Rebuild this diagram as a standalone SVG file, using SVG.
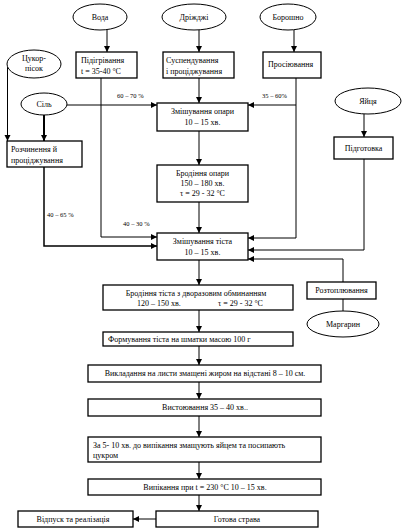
<svg xmlns="http://www.w3.org/2000/svg" width="405" height="531" viewBox="0 0 405 531">
<style>
  .b{fill:#fff;stroke:#000;stroke-width:1.3}
  .e{fill:#fff;stroke:#000;stroke-width:1}
  .t{font-family:"Liberation Serif","Times New Roman",serif;font-size:8px;fill:#000}
  .c{text-anchor:middle}
  .s{font-size:6.5px}
  .l{fill:none;stroke:#000;stroke-width:1}
  .a{marker-end:url(#ar)}
</style>
<defs>
  <marker id="ar" markerUnits="userSpaceOnUse" markerWidth="7" markerHeight="7" refX="6" refY="3" orient="auto">
    <path d="M0,0 L6,3 L0,6 z" fill="#000"/>
  </marker>
</defs>
<rect width="405" height="531" fill="#fff"/>

<g id="connectors">
  <line class="l a" x1="107" y1="30" x2="107" y2="52"/>
  <line class="l a" x1="199" y1="30" x2="199" y2="52"/>
  <line class="l a" x1="294" y1="30" x2="294" y2="52"/>
  <polyline class="l a" points="101,78 101,237 157,237"/>
  <line class="l a" x1="67" y1="105" x2="157" y2="105"/>
  <line class="l a" x1="199" y1="78" x2="199" y2="103"/>
  <polyline class="l a" points="296,78 296,238 248,238"/>
  <line class="l a" x1="296" y1="105" x2="248" y2="105"/>
  <line class="l a" x1="7.5" y1="67" x2="7.5" y2="141"/>
  <line class="l a" x1="44" y1="115" x2="44" y2="141" style="stroke-width:2"/>
  <polyline class="l a" points="44,167 44,246 157,246" style="stroke-width:1.5"/>
  <line class="l a" x1="199" y1="131" x2="199" y2="165"/>
  <line class="l a" x1="199" y1="202" x2="199" y2="233"/>
  <line class="l a" x1="364" y1="114" x2="364" y2="137"/>
  <polyline class="l a" points="364,159 364,250 248,250"/>
  <polyline class="l a" points="343,282 343,259 248,259"/>
  <line class="l" x1="343" y1="299" x2="343" y2="311"/>
  <line class="l a" x1="199" y1="260" x2="199" y2="285"/>
  <line class="l a" x1="199" y1="310" x2="199" y2="332"/>
  <line class="l a" x1="199" y1="346" x2="199" y2="365"/>
  <line class="l a" x1="199" y1="382" x2="199" y2="399"/>
  <line class="l a" x1="199" y1="416" x2="199" y2="437"/>
  <line class="l a" x1="199" y1="462" x2="199" y2="479"/>
  <line class="l a" x1="199" y1="495" x2="199" y2="511"/>
  <line class="l a" x1="156" y1="519" x2="133" y2="519"/>
  <text class="t s" x="117" y="98">60 – 70 %</text>
  <text class="t s" x="262" y="98">35 – 60%</text>
  <text class="t s" x="47" y="217">40 – 65 %</text>
  <text class="t s" x="123" y="226">40 – 30 %</text>
</g>

<g id="voda"><ellipse class="e" cx="100" cy="17" rx="27" ry="13"/><text class="t c" x="100" y="20">Вода</text></g>
<g id="drizhdzhi"><ellipse class="e" cx="194" cy="17" rx="32" ry="13"/><text class="t c" x="194" y="20">Дріжджі</text></g>
<g id="boroshno"><ellipse class="e" cx="288" cy="17" rx="28" ry="13"/><text class="t c" x="288" y="20">Борошно</text></g>
<g id="tsukor"><ellipse class="e" cx="34" cy="64" rx="27" ry="14"/><text class="t c" x="34" y="61">Цукор-</text><text class="t c" x="34" y="71">пісок</text></g>
<g id="sil"><ellipse class="e" cx="44" cy="104" rx="23" ry="11"/><text class="t c" x="44" y="107">Сіль</text></g>
<g id="yaytsya"><ellipse class="e" cx="368" cy="101" rx="33" ry="13"/><text class="t c" x="368" y="104">Яйця</text></g>
<g id="marharyn"><ellipse class="e" cx="343" cy="324" rx="36" ry="13"/><text class="t c" x="343" y="327">Маргарин</text></g>

<g id="pidihrivannya"><rect class="b" x="76" y="52" width="61" height="26"/><text class="t" x="81" y="63">Підігрівання</text><text class="t" x="81" y="74">t = 35-40 °C</text></g>
<g id="suspenduvannya"><rect class="b" x="163" y="52" width="71" height="26"/><text class="t" x="166" y="63">Суспендування</text><text class="t" x="166" y="74">і проціджування</text></g>
<g id="prosiyuvannya"><rect class="b" x="263" y="52" width="58" height="26"/><text class="t" x="268" y="67">Просіювання</text></g>
<g id="zmishuvannya-opary"><rect class="b" x="157" y="103" width="91" height="28"/><text class="t c" x="202.5" y="114">Змішування опари</text><text class="t c" x="202.5" y="125">10 – 15 хв.</text></g>
<g id="brodinnya-opary"><rect class="b" x="157" y="165" width="91" height="37"/><text class="t c" x="202.5" y="176">Бродіння опари</text><text class="t c" x="202.5" y="186">150 – 180 хв.</text><text class="t c" x="202.5" y="196">τ = 29 - 32 °C</text></g>
<g id="rozchynennya"><rect class="b" x="7" y="141" width="75" height="26"/><text class="t" x="11" y="152">Розчинення  й</text><text class="t" x="11" y="163">проціджування</text></g>
<g id="pidhotovka"><rect class="b" x="334" y="137" width="59" height="22"/><text class="t c" x="363.5" y="151">Підготовка</text></g>
<g id="zmishuvannya-tista"><rect class="b" x="157" y="233" width="91" height="27"/><text class="t c" x="202.5" y="244">Змішування тіста</text><text class="t c" x="202.5" y="255">10 – 15 хв.</text></g>
<g id="roztoplyuvannya"><rect class="b" x="307" y="282" width="69" height="17"/><text class="t c" x="341.5" y="293">Розтоплювання</text></g>
<g id="brodinnya-tista"><rect class="b" x="103" y="285" width="190" height="25"/><text class="t c" x="196" y="296">Бродіння тіста з дворазовим обминанням</text><text class="t" x="137" y="306">120 – 150 хв.</text><text class="t" x="218" y="306">τ = 29 - 32 °C</text></g>
<g id="formuvannya"><rect class="b" x="103" y="332" width="190" height="14"/><text class="t" x="108" y="342">Формування тіста  на шматки масою 100 г</text></g>
<g id="vykladannya"><rect class="b" x="88" y="365" width="233" height="17"/><text class="t c" x="205" y="376">Викладання  на листи змащені жиром на відстані 8 – 10 см.</text></g>
<g id="vystoyuvannya"><rect class="b" x="88" y="399" width="233" height="17"/><text class="t c" x="205" y="410">Вистоювання 35 – 40  хв..</text></g>
<g id="za-5-10"><rect class="b" x="88" y="437" width="233" height="25"/><text class="t" x="93" y="448">За 5- 10 хв. до випікання змащують яйцем та посипають</text><text class="t" x="93" y="458">цукром</text></g>
<g id="vypikannya"><rect class="b" x="88" y="479" width="233" height="16"/><text class="t c" x="205" y="490">Випікання  при t = 230 °C 10 – 15 хв.</text></g>
<g id="hotova-strava"><rect class="b" x="156" y="511" width="162" height="16"/><text class="t c" x="237" y="522">Готова страва</text></g>
<g id="vidpusk"><rect class="b" x="18" y="511" width="115" height="16"/><text class="t c" x="73" y="522">Відпуск та реалізація</text></g>
</svg>
